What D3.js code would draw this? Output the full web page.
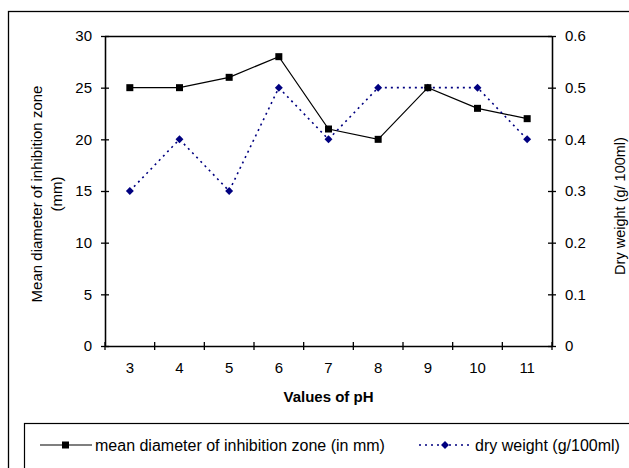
<!DOCTYPE html>
<html>
<head>
<meta charset="utf-8">
<script src="https://cdn.jsdelivr.net/npm/d3@7"></script>
<style>
  body { margin: 0; background: #fff; }
  svg { display: block; font-family: "Liberation Sans", Arial, sans-serif; }
</style>
</head>
<body>
<script>
const phValues = ['3', '4', '5', '6', '7', '8', '9', '10', '11'];
const meanDiameter = [25, 25, 26, 28, 21, 20, 25, 23, 22];
const dryWeight = [0.3, 0.4, 0.3, 0.5, 0.4, 0.5, 0.5, 0.5, 0.4];
const leftTicks = [0, 5, 10, 15, 20, 25, 30];
const rightTicks = [0, 0.1, 0.2, 0.3, 0.4, 0.5, 0.6];

const width = 629;
const height = 468;
const plot = { left: 105, right: 552, top: 36, bottom: 346 };
const fontFamily = '"Liberation Sans", Arial, sans-serif';

const svg = d3.select('body').append('svg').attr('width', width).attr('height', height);

// outer chart border (runs off the right and bottom edges)
svg.append('rect')
  .attr('x', 8.5).attr('y', 11.5)
  .attr('width', 700).attr('height', 500)
  .attr('fill', 'none').attr('stroke', '#000').attr('stroke-width', 1.3);

const x = d3.scaleBand().domain(phValues).range([plot.left, plot.right]);
const yLeft = d3.scaleLinear().domain([0, 30]).range([plot.bottom, plot.top]);
const yRight = d3.scaleLinear().domain([0, 0.6]).range([plot.bottom, plot.top]);

// plot frame top line
svg.append('line')
  .attr('x1', plot.left).attr('x2', plot.right)
  .attr('y1', plot.top + 0.5).attr('y2', plot.top + 0.5)
  .attr('stroke', '#000').attr('stroke-width', 1.3);

function styleAxis(g) {
  g.selectAll('path, line').attr('stroke', '#000').attr('stroke-width', 1.3);
  g.selectAll('text').attr('font-size', 15).attr('fill', '#000').attr('font-family', fontFamily);
}

// left axis
svg.append('g')
  .attr('transform', `translate(${plot.left},0)`)
  .call(d3.axisLeft(yLeft).tickValues(leftTicks).tickSize(4).tickSizeOuter(0).tickPadding(9))
  .call(styleAxis);
svg.append('g')
  .attr('transform', `translate(${plot.left},0)`)
  .call(d3.axisLeft(yLeft).tickValues(leftTicks).tickSize(-4).tickSizeOuter(0).tickFormat(''))
  .call(styleAxis);

// right axis
svg.append('g')
  .attr('transform', `translate(${plot.right},0)`)
  .call(d3.axisRight(yRight).tickValues(rightTicks).tickSize(4).tickSizeOuter(0).tickPadding(9).tickFormat(d => d === 0 ? '0' : d3.format('.1f')(d)))
  .call(styleAxis);
svg.append('g')
  .attr('transform', `translate(${plot.right},0)`)
  .call(d3.axisRight(yRight).tickValues(rightTicks).tickSize(-4).tickSizeOuter(0).tickFormat(''))
  .call(styleAxis);

// bottom axis: labels at band centres, tick marks at band edges
const xAxis = svg.append('g')
  .attr('transform', `translate(0,${plot.bottom})`)
  .call(d3.axisBottom(x).tickSize(0).tickPadding(16).tickSizeOuter(0))
  .call(styleAxis);
const edges = phValues.map(d => x(d)).concat([plot.right]);
xAxis.selectAll('line.edge')
  .data(edges)
  .enter()
  .append('line')
  .attr('class', 'edge')
  .attr('x1', d => d).attr('x2', d => d)
  .attr('y1', -4).attr('y2', 4)
  .attr('stroke', '#000').attr('stroke-width', 1.3);

// axis titles
svg.append('text')
  .attr('x', (plot.left + plot.right) / 2).attr('y', 402)
  .attr('text-anchor', 'middle').attr('font-size', 15).attr('font-weight', 'bold')
  .text('Values of pH');

const leftTitle = svg.append('text')
  .attr('transform', `translate(37,${(plot.top + plot.bottom) / 2 + 3}) rotate(-90)`)
  .attr('text-anchor', 'middle').attr('font-size', 15);
leftTitle.append('tspan').attr('x', 0).attr('dy', '0.35em').text('Mean diameter of inhibition zone');
leftTitle.append('tspan').attr('x', 0).attr('dy', '1.3em').text('(mm)');

svg.append('text')
  .attr('transform', `translate(620,206) rotate(-90)`)
  .attr('text-anchor', 'middle').attr('dy', '0.35em').attr('font-size', 14.5)
  .text('Dry weight (g/ 100ml)');

// series: mean diameter
const lineLeft = d3.line().x((d, i) => x(phValues[i]) + x.bandwidth() / 2).y(d => yLeft(d));
svg.append('path')
  .datum(meanDiameter)
  .attr('d', lineLeft)
  .attr('fill', 'none').attr('stroke', '#000').attr('stroke-width', 1.2);

// series: dry weight
const lineRight = d3.line().x((d, i) => x(phValues[i]) + x.bandwidth() / 2).y(d => yRight(d));
svg.append('path')
  .datum(dryWeight)
  .attr('d', lineRight)
  .attr('fill', 'none').attr('stroke', '#000080').attr('stroke-width', 1.6)
  .attr('stroke-dasharray', '2,4');

const diamond = d3.symbol().type(d3.symbolDiamond2).size(40);
svg.selectAll('path.dry')
  .data(dryWeight)
  .enter()
  .append('path')
  .attr('class', 'dry')
  .attr('transform', (d, i) => `translate(${x(phValues[i]) + x.bandwidth() / 2},${yRight(d)})`)
  .attr('d', diamond)
  .attr('fill', '#000080');

svg.selectAll('rect.mean')
  .data(meanDiameter)
  .enter()
  .append('rect')
  .attr('class', 'mean')
  .attr('x', (d, i) => x(phValues[i]) + x.bandwidth() / 2 - 3.5)
  .attr('y', d => yLeft(d) - 3.5)
  .attr('width', 7).attr('height', 7)
  .attr('fill', '#000');

// legend
const legend = svg.append('g');
legend.append('rect')
  .attr('x', 24.5).attr('y', 423.5)
  .attr('width', 700).attr('height', 100)
  .attr('fill', 'none').attr('stroke', '#000').attr('stroke-width', 1.2);

legend.append('line')
  .attr('x1', 40).attr('x2', 92).attr('y1', 445).attr('y2', 445)
  .attr('stroke', '#000').attr('stroke-width', 1.2);
legend.append('rect')
  .attr('x', 62).attr('y', 441.5).attr('width', 7).attr('height', 7).attr('fill', '#000');
legend.append('text')
  .attr('x', 95).attr('y', 450.5).attr('font-size', 16)
  .text('mean diameter of inhibition zone (in mm)');

legend.append('line')
  .attr('x1', 419).attr('x2', 472).attr('y1', 445).attr('y2', 445)
  .attr('stroke', '#000080').attr('stroke-width', 1.6).attr('stroke-dasharray', '2,4');
legend.append('path')
  .attr('transform', 'translate(445,445)')
  .attr('d', diamond)
  .attr('fill', '#000080');
legend.append('text')
  .attr('x', 475).attr('y', 450.5).attr('font-size', 16)
  .text('dry weight (g/100ml)');
</script>
</body>
</html>
